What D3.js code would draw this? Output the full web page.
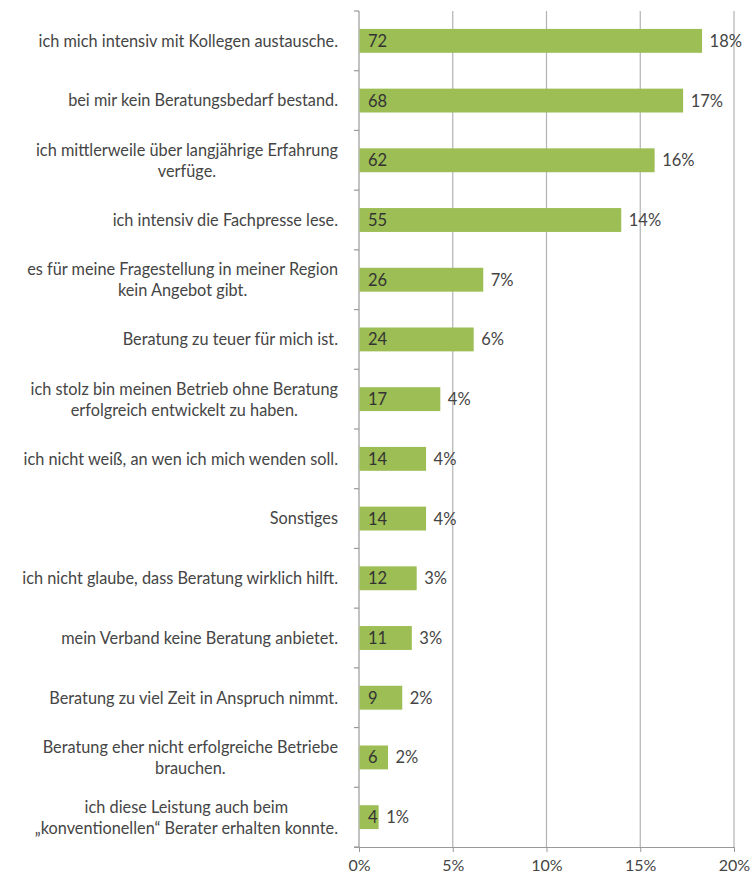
<!DOCTYPE html>
<html>
<head>
<meta charset="utf-8">
<script src="https://cdn.jsdelivr.net/npm/d3@7"></script>
<style>
  html, body { margin: 0; padding: 0; background: #fff; }
  svg { display: block; }
  text { font-family: Lato, "Open Sans", sans-serif; fill: #454545; }
</style>
</head>
<body>
<svg id="chart" width="751" height="877"></svg>
<script>
const categories = [
  "ich mich intensiv mit Kollegen austausche.",
  "bei mir kein Beratungsbedarf bestand.",
  "ich mittlerweile über langjährige Erfahrung\nverfüge.",
  "ich intensiv die Fachpresse lese.",
  "es für meine Fragestellung in meiner Region\nkein Angebot gibt.",
  "Beratung zu teuer für mich ist.",
  "ich stolz bin meinen Betrieb ohne Beratung\nerfolgreich entwickelt zu haben.",
  "ich nicht weiß, an wen ich mich wenden soll.",
  "Sonstiges",
  "ich nicht glaube, dass Beratung wirklich hilft.",
  "mein Verband keine Beratung anbietet.",
  "Beratung zu viel Zeit in Anspruch nimmt.",
  "Beratung eher nicht erfolgreiche Betriebe\nbrauchen.",
  "ich diese Leistung auch beim\n„konventionellen“ Berater erhalten konnte."
];
const counts = [72, 68, 62, 55, 26, 24, 17, 14, 14, 12, 11, 9, 6, 4];
const percents = [18.27, 17.26, 15.74, 13.96, 6.60, 6.09, 4.31, 3.55, 3.55, 3.05, 2.79, 2.28, 1.52, 1.02];
const percentLabels = ["18%", "17%", "16%", "14%", "7%", "6%", "4%", "4%", "4%", "3%", "3%", "2%", "2%", "1%"];
const xTicks = [0, 5, 10, 15, 20];

const svg = d3.select("#chart");
const pLeft = 359, pRight = 734, pTop = 11, pBottom = 847;

const x = d3.scaleLinear().domain([0, 20]).range([pLeft, pRight]);
const y = d3.scaleBand().domain(categories).range([pTop, pBottom])
  .paddingInner(0.6).paddingOuter(0.3);

// gridlines
svg.append("g").selectAll("line").data(xTicks.slice(1)).join("line")
  .attr("x1", d => x(d)).attr("x2", d => x(d))
  .attr("y1", pTop).attr("y2", pBottom)
  .attr("stroke", "#b3b3b3").attr("stroke-width", 1.2);

// bottom axis
const xAxis = d3.axisBottom(x).tickValues(xTicks).tickFormat(d => d + "%")
  .tickSize(5).tickPadding(8);
const gx = svg.append("g").attr("transform", `translate(0,${pBottom})`).call(xAxis);
gx.select(".domain").attr("stroke", "#999").attr("stroke-width", 1.2)
  .attr("d", `M${pLeft - 5},0.5H${pRight}`);
gx.selectAll(".tick line").attr("stroke", "#999");
gx.selectAll(".tick text").style("font-family", "Lato, 'Open Sans', sans-serif")
  .style("font-size", "16px").style("fill", "#454545");

// left axis line + boundary ticks
svg.append("line").attr("x1", pLeft).attr("x2", pLeft).attr("y1", pTop).attr("y2", pBottom)
  .attr("stroke", "#999").attr("stroke-width", 1.2);
const step = y.step();
svg.append("g").selectAll("line").data(d3.range(categories.length + 1)).join("line")
  .attr("x1", pLeft - 5).attr("x2", pLeft)
  .attr("y1", i => pTop + i * step).attr("y2", i => pTop + i * step)
  .attr("stroke", "#999").attr("stroke-width", 1.2);

// bars
svg.append("g").selectAll("rect").data(categories).join("rect")
  .attr("x", pLeft + 0.5)
  .attr("y", d => y(d))
  .attr("width", (d, i) => x(percents[i]) - pLeft)
  .attr("height", y.bandwidth())
  .attr("fill", "#9cbe55");

// count labels
svg.append("g").selectAll("text").data(categories).join("text")
  .attr("x", pLeft + 9)
  .attr("y", d => y(d) + y.bandwidth() / 2)
  .attr("dy", "0.36em")
  .style("font-size", "16.5px")
  .style("fill", "#333")
  .text((d, i) => counts[i]);

// percent labels
svg.append("g").selectAll("text").data(categories).join("text")
  .attr("x", (d, i) => x(percents[i]) + 8)
  .attr("y", d => y(d) + y.bandwidth() / 2)
  .attr("dy", "0.36em")
  .style("font-size", "16.5px")
  .text((d, i) => percentLabels[i]);

// category labels
const lineH = 21;
const labelRight = 338;
const lg = svg.append("g");
categories.forEach(c => {
  const lines = c.split("\n");
  const cy = y(c) + y.bandwidth() / 2;
  const t = lg.append("text").style("font-size", "16.3px").attr("text-anchor", "middle");
  lines.forEach((ln, j) => {
    t.append("tspan").attr("y", cy + (j - (lines.length - 1) / 2) * lineH).attr("dy", "0.36em").text(ln);
  });
  let w = 0;
  t.selectAll("tspan").each(function() { w = Math.max(w, this.getComputedTextLength()); });
  t.selectAll("tspan").attr("x", labelRight - w / 2);
});
</script>
</body>
</html>
